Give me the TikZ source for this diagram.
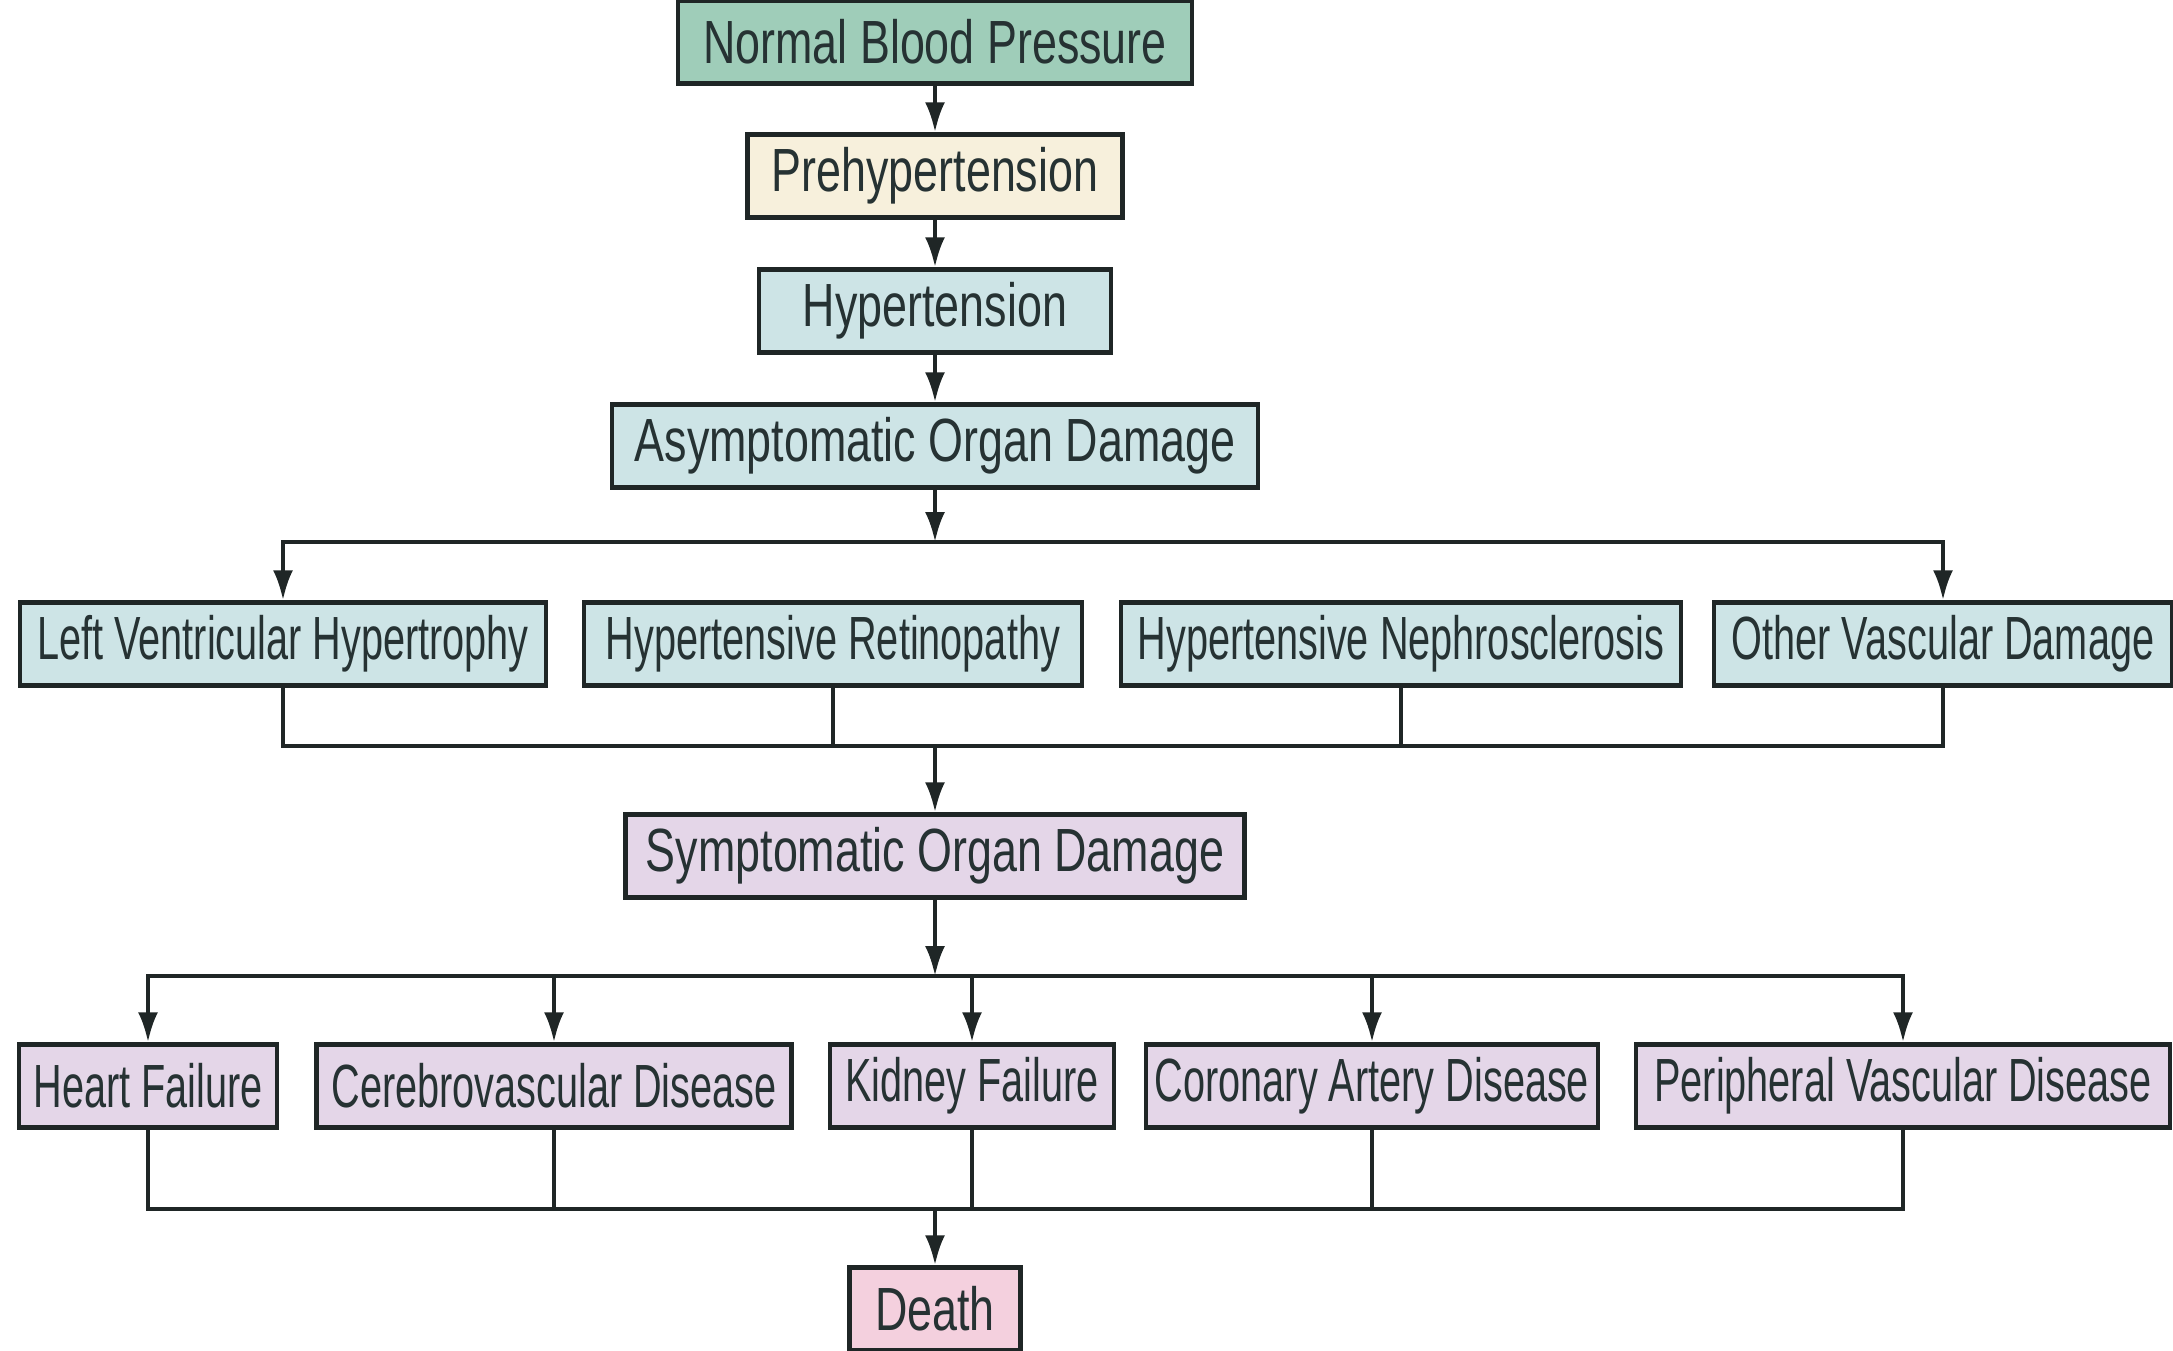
\documentclass[tikz,border=0pt]{standalone}
\usepackage{fontspec}
\setmainfont{Liberation Sans}[FakeStretch=0.65]
\newfontfamily\mainchainfont{Liberation Sans}[FakeStretch=0.735]
\usetikzlibrary{arrows.meta,positioning}
\definecolor{nbpfill}{HTML}{9FCDB9}
\definecolor{prefill}{HTML}{F7F0DC}
\definecolor{hypfill}{HTML}{CDE4E6}
\definecolor{symfill}{HTML}{E4D6E8}
\definecolor{deathfill}{HTML}{F4D0DE}
\definecolor{boxline}{HTML}{1F2626}
\definecolor{txtdark}{HTML}{263233}

\begin{document}
\begin{tikzpicture}[x=1pt,y=-1pt,>={Latex[length=30pt,width=20pt]},line width=4pt,draw=boxline,
  box/.style={draw=boxline,line width=4.5pt,inner sep=0pt,minimum height=83pt,font=\fontsize{61}{70}\selectfont,text=txtdark},
  stage/.style={box,font=\fontsize{61}{70}\selectfont\mainchainfont},
  normbox/.style={stage,fill=nbpfill},
  prebox/.style={stage,fill=prefill},
  hypbox/.style={box,fill=hypfill},
  symbox/.style={box,fill=symfill},
  deathbox/.style={stage,fill=deathfill}]
\useasboundingbox[fill=white] (0,0) rectangle (2173,1350);
% main chain
\node[normbox,minimum width=514pt] (nbp) at (935,42) {Normal Blood Pressure};
\node[prebox,minimum width=375pt] (pre) at (935,176) {Prehypertension};
\node[hypbox,stage,minimum width=352pt] (hyp) at (935,311) {Hypertension};
\node[hypbox,stage,minimum width=646pt] (aod) at (935,446) {Asymptomatic Organ Damage};
% asymptomatic organ damage
\node[hypbox,minimum width=526pt] (lvh) at (283,644) {Left Ventricular Hypertrophy};
\node[hypbox,minimum width=498pt] (hr) at (833,644) {Hypertensive Retinopathy};
\node[hypbox,minimum width=560pt] (hn) at (1401,644) {Hypertensive Nephrosclerosis};
\node[hypbox,minimum width=458pt] (ovd) at (1943,644) {Other Vascular Damage};
\node[symbox,stage,minimum width=619pt] (sod) at (935,856) {Symptomatic Organ Damage};
% symptomatic organ damage
\node[symbox,minimum width=258pt] (hf) at (148,1086) {Heart Failure};
\node[symbox,minimum width=475pt] (cd) at (554,1086) {Cerebrovascular Disease};
\node[symbox,minimum width=284pt] (kf) at (972,1086) {Kidney Failure};
\node[symbox,minimum width=452pt] (cad) at (1372,1086) {Coronary Artery Disease};
\node[symbox,minimum width=534pt] (pvd) at (1903,1086) {Peripheral Vascular Disease};
\node[deathbox,minimum width=171pt] (death) at (935,1309) {Death};
\coordinate (b1) at (935,542);
\coordinate (j1) at (935,746);
\coordinate (b2) at (935,976);
\coordinate (j2) at (935,1209);

\draw[->] (nbp) -- (pre);
\draw[->] (pre) -- (hyp);
\draw[->] (hyp) -- (aod);
\draw[->] (aod) -- (b1);
\draw[<->] (lvh.north) -- (lvh.north |- b1) -- (ovd.north |- b1) -- (ovd.north);
\draw (lvh.south) -- (lvh.south |- j1) -- (ovd.south |- j1) -- (ovd.south);
\foreach \n in {hr,hn} \draw (\n.south) -- (\n.south |- j1);
\draw[->] (j1) -- (sod);
\draw[->] (sod) -- (b2);
\draw[<->] (hf.north) -- (hf.north |- b2) -- (pvd.north |- b2) -- (pvd.north);
\foreach \n in {cd,kf,cad} \draw[->] (\n.north |- b2) -- (\n.north);
\draw (hf.south) -- (hf.south |- j2) -- (pvd.south |- j2) -- (pvd.south);
\foreach \n in {cd,kf,cad} \draw (\n.south) -- (\n.south |- j2);
\draw[->] (j2) -- (death);
\end{tikzpicture}
\end{document}
